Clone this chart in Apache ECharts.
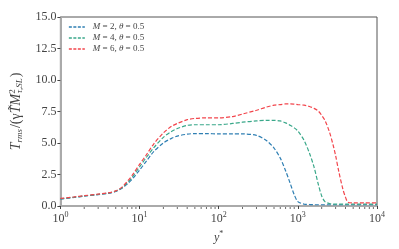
<!DOCTYPE html>
<html><head><meta charset="utf-8">
<script src="https://cdn.jsdelivr.net/npm/echarts@6/dist/echarts.min.js"></script>
<style>html,body{margin:0;padding:0;background:#fff}#c{width:399px;height:249px}</style>
</head><body><div id="c"></div>
<script>
var yStar = [1,1.5,2,3,4,5,6,7,8,10,12,15,20,25,30,40,50,70,100,150,200,300,400,500,600,700,800,900,1000,1200,1400,1600,1800,2000,2200,2500,2800,3000,3300,3700,4000,4300,5000,7000,10000];
var m2 = [0.55,0.68,0.78,0.9,1.0,1.15,1.4,1.75,2.1,2.85,3.5,4.3,5.0,5.35,5.55,5.7,5.75,5.75,5.72,5.72,5.72,5.6,5.2,4.6,3.8,2.8,1.8,0.9,0.35,0.15,0.12,0.1,0.1,0.1,0.1,0.1,0.1,0.1,0.1,0.1,0.1,0.1,0.1,0.1,0.1];
var m4 = [0.57,0.7,0.8,0.92,1.02,1.18,1.45,1.85,2.25,3.1,3.8,4.6,5.45,5.9,6.15,6.4,6.45,6.45,6.45,6.55,6.65,6.75,6.8,6.8,6.75,6.6,6.4,6.2,5.95,5.2,4.2,3.1,1.8,0.8,0.35,0.2,0.15,0.15,0.15,0.15,0.15,0.15,0.15,0.15,0.15];
var m6 = [0.6,0.72,0.82,0.94,1.04,1.2,1.5,1.95,2.4,3.3,4.0,4.9,5.8,6.3,6.55,6.85,6.95,7.0,7.0,7.1,7.3,7.6,7.85,8.0,8.05,8.1,8.1,8.08,8.05,8.0,7.9,7.75,7.55,7.2,6.8,5.9,4.8,4.0,2.7,1.35,0.7,0.3,0.25,0.25,0.25];
var seriesNames = ['M = 2, θ = 0.5','M = 4, θ = 0.5','M = 6, θ = 0.5'];
var yTicks = [0,2.5,5,7.5,10,12.5,15];
var minorTicks = [];
[1,10,100,1000].forEach(function(d){for(var k=2;k<=9;k++)minorTicks.push(k*d);});

var font = 'Liberation Serif';
function pairs(v){return yStar.map(function(x,i){return [x,v[i]];});}
var colors = ['#2f7fb3','#3aa88a','#f2454c'];
var vals = [m2,m4,m6];
var series = vals.map(function(v,i){
  return {name:seriesNames[i],type:'line',data:pairs(v),symbol:'none',smooth:0.3,
    lineStyle:{color:colors[i],width:1.2,type:[4,2]},itemStyle:{color:colors[i]}};
});
series.push({type:'custom',silent:true,clip:false,z:5,
  data:minorTicks.map(function(x){return [x,0];}),
  renderItem:function(params,api){
    var p=api.coord([api.value(0),0]);
    return {type:'line',shape:{x1:p[0],y1:p[1]+1,x2:p[0],y2:p[1]+3},style:{stroke:'#444',lineWidth:0.8}};
  }});
var chart = echarts.init(document.getElementById('c'));
chart.setOption({
  animation:false,
  grid:{left:57,right:22,top:17,bottom:43,show:true,borderColor:'#555',borderWidth:1},
  legend:{orient:'vertical',left:63,top:17,itemWidth:16,itemHeight:10,itemGap:1,
    data:seriesNames.map(function(n,i){return {name:n,itemStyle:{opacity:0},lineStyle:{color:colors[i],type:[3,1.5],width:1.7}};}),
    formatter:function(n){var p=n.split(', ');var a=p[0].split(' = '),b=p[1].split(' = ');
      return '{g|}{i|'+a[0]+'} = '+a[1]+', {i|'+b[0]+'} = '+b[1];},
    textStyle:{fontFamily:font,fontSize:9,color:'#444',lineHeight:10,rich:{g:{width:3},i:{fontStyle:'italic',fontFamily:font,fontSize:9,color:'#444'}}}},
  xAxis:{type:'log',logBase:10,min:1,max:10000,
    axisLine:{lineStyle:{color:'#aaa',width:2}},
    axisTick:{inside:false,length:3,lineStyle:{color:'#444'}},
    splitLine:{show:false},
    axisLabel:{fontFamily:font,fontSize:12,color:'#444',margin:5,
      formatter:function(v){return '10{s|'+Math.round(Math.log10(v))+'}';},
      rich:{s:{fontSize:8,fontFamily:font,color:'#444',padding:[0,0,8,0]}}},
    name:'{i|y}{s|*}',nameLocation:'middle',nameGap:19,
    nameTextStyle:{fontFamily:font,fontSize:12,color:'#444',rich:{i:{fontStyle:'italic',fontSize:12,fontFamily:font,color:'#444'},s:{fontSize:8,fontFamily:font,color:'#444',padding:[0,0,7,0]}}}
  },
  yAxis:{type:'value',min:yTicks[0],max:yTicks[yTicks.length-1],interval:2.5,
    axisLine:{show:true,lineStyle:{color:'#aaa',width:2}},
    axisTick:{show:true,inside:false,length:3,lineStyle:{color:'#444'}},
    splitLine:{show:false},
    axisLabel:{fontFamily:font,fontSize:12,color:'#444',margin:4,formatter:function(v){return v.toFixed(1);}},
    name:'{i|T}{sb|rms}{n|/(γ}{i|T̃}{i|M}{sp|2}{sb|τ,SL}{n|)}',nameLocation:'middle',nameGap:28,nameRotate:90,
    nameTextStyle:{fontFamily:font,fontSize:14,color:'#444',rich:{
      i:{fontStyle:'italic',fontSize:14,fontFamily:font,color:'#444'},
      n:{fontSize:14,fontFamily:font,color:'#444'},
      sb:{fontStyle:'italic',fontSize:9,fontFamily:font,color:'#444',padding:[7,1,0,0]},
      sp:{fontSize:9,fontFamily:font,color:'#444',padding:[0,-4,8,0]}}}
  },
  series:series
});
</script></body></html>
